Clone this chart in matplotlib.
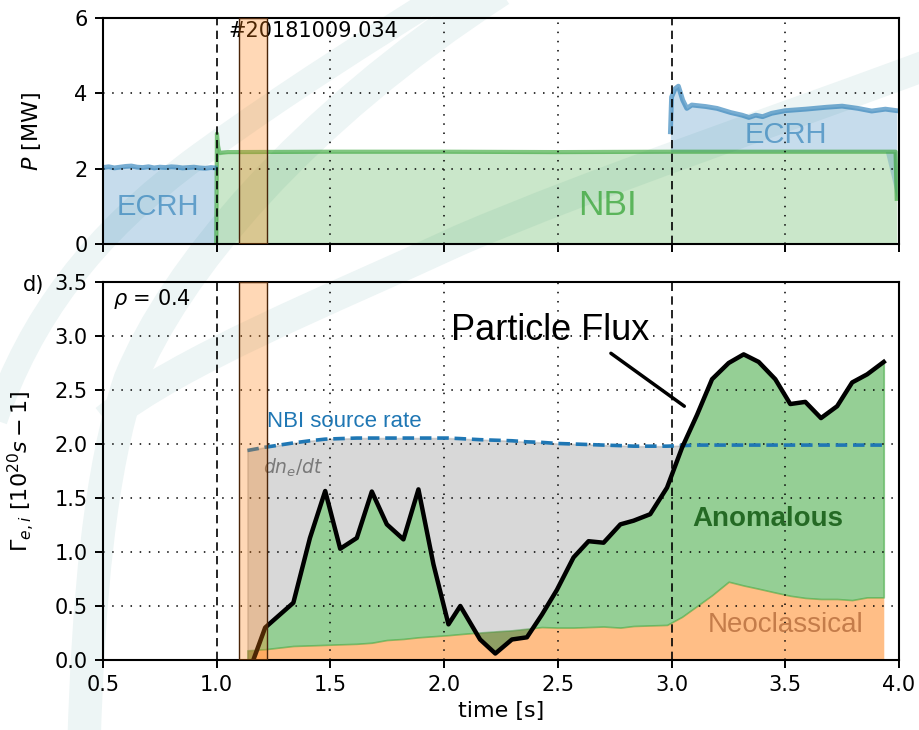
import numpy as np
import matplotlib
matplotlib.use("Agg")
import matplotlib.pyplot as plt
from matplotlib.colors import to_rgba
from matplotlib.path import Path
from matplotlib.patches import PathPatch

# ---------------- data ----------------
# top panel: heating powers [MW]
ecrh1_t = [0.50, 0.525, 0.55, 0.575, 0.60, 0.625, 0.65, 0.675, 0.70, 0.725, 0.75,
           0.775, 0.80, 0.825, 0.85, 0.875, 0.90, 0.925, 0.95, 0.975, 0.993]
ecrh1_p = [2.03, 2.05, 2.02, 2.04, 2.06, 2.07, 2.04, 2.03, 2.05, 2.02, 2.04,
           2.03, 2.05, 2.04, 2.02, 2.03, 2.04, 2.02, 2.01, 2.03, 2.02]
ecrh2_t = [2.995, 3.0, 3.015, 3.03, 3.049, 3.067, 3.089, 3.15, 3.2, 3.26, 3.31, 3.34,
           3.37, 3.40, 3.44, 3.50, 3.59, 3.68, 3.75, 3.82, 3.88, 3.94, 3.99]
ecrh2_p = [2.98, 3.90, 4.12, 4.19, 3.82, 3.60, 3.69, 3.65, 3.60, 3.49, 3.42, 3.36,
           3.42, 3.38, 3.47, 3.54, 3.58, 3.63, 3.66, 3.60, 3.53, 3.58, 3.54]
nbi_t = [0.998, 1.001, 1.006, 1.012, 1.05, 1.5, 2.0, 2.5, 3.0, 3.5, 3.985, 3.99]
nbi_p = [0.0, 2.93, 2.60, 2.42, 2.44, 2.45, 2.45, 2.44, 2.45, 2.45, 2.45, 1.20]

# bottom panel: particle fluxes at rho = 0.4 [1e20 /s]
flux_t = [1.135, 1.213, 1.337, 1.41, 1.477, 1.543, 1.616, 1.682, 1.748, 1.821, 1.887,
          1.953, 2.019, 2.071, 2.158, 2.225, 2.298, 2.364, 2.43, 2.496, 2.569, 2.635,
          2.701, 2.775, 2.833, 2.906, 2.98, 3.046, 3.112, 3.178, 3.251, 3.317, 3.383,
          3.456, 3.522, 3.588, 3.657, 3.728, 3.794, 3.86, 3.933]
particle_flux = [-0.15, 0.30, 0.53, 1.13, 1.565, 1.03, 1.13, 1.56, 1.256, 1.117, 1.58,
                 0.886, 0.33, 0.50, 0.19, 0.06, 0.19, 0.21, 0.42, 0.65, 0.95, 1.10,
                 1.086, 1.256, 1.29, 1.35, 1.596, 1.966, 2.27, 2.60, 2.75, 2.83, 2.76,
                 2.60, 2.37, 2.39, 2.24, 2.35, 2.57, 2.645, 2.76]
neoclassical = [0.09, 0.10, 0.13, 0.135, 0.14, 0.145, 0.15, 0.16, 0.185, 0.195, 0.21,
                0.22, 0.23, 0.24, 0.255, 0.265, 0.275, 0.29, 0.305, 0.30, 0.30, 0.305,
                0.31, 0.30, 0.315, 0.32, 0.325, 0.40, 0.50, 0.60, 0.725, 0.69, 0.66,
                0.625, 0.595, 0.575, 0.565, 0.565, 0.555, 0.58, 0.58]
nbi_source = [1.94, 1.97, 2.01, 2.03, 2.045, 2.05, 2.055, 2.055, 2.055, 2.055, 2.055,
              2.055, 2.055, 2.05, 2.04, 2.035, 2.03, 2.02, 2.015, 2.005, 2.0, 1.995,
              1.99, 1.985, 1.98, 1.98, 1.98, 1.985, 1.99, 1.99, 1.99, 1.99, 1.99,
              1.99, 1.99, 1.99, 1.99, 1.99, 1.99, 1.99, 1.99]

shot = "#20181009.034"
t_lines = [1.0, 3.0]
t_window = (1.1, 1.22)
x_ticks = [0.5, 1.0, 1.5, 2.0, 2.5, 3.0, 3.5, 4.0]

# ---------------- style ----------------
plt.rcParams["font.family"] = ["DejaVu Sans"]
ARIAL = ["Liberation Sans", "DejaVu Sans"]
fig = plt.figure(figsize=(9.2, 7.3), dpi=100)

# faint background watermark (decorative swooshes), figure pixel space
W, H = 920.0, 730.0
def fp(x, y):
    return (x / W, 1 - y / H)
wm_col = "#edf5f5"
def swoosh(pts, lw):
    verts = [fp(*p) for p in pts]
    codes = [Path.MOVETO] + [Path.CURVE4] * (len(verts) - 1)
    fig.add_artist(PathPatch(Path(verts, codes), fill=False, lw=lw, edgecolor=wm_col,
                             transform=fig.transFigure, zorder=-5, capstyle="butt"))
# big arc from bottom-left up to the top
swoosh([(84, 745), (88, 600), (100, 470), (130, 380),
        (175, 270), (300, 120), (500, -10)], 24)
# upper-left band
swoosh([(-5, 420), (30, 320), (90, 235), (200, 155),
        (290, 90), (370, 40), (450, -10)], 18)
# long band to the right
swoosh([(105, 420), (180, 360), (330, 300), (460, 240),
        (600, 180), (780, 120), (935, 62)], 22)

ax1 = fig.add_axes([103 / W, 1 - 244 / H, 796 / W, 226 / H])
ax2 = fig.add_axes([103 / W, 1 - 660 / H, 796 / W, 378 / H])

grid_kw = dict(color="k", lw=1.1, linestyle=(0, (1, 5)))
for ax in (ax1, ax2):
    ax.patch.set_alpha(0)
    ax.set_xlim(0.5, 4.0)
    ax.set_xticks(x_ticks)
    ax.set_axisbelow(False)
    ax.grid(True, **grid_kw)
    for tick_val, gl in zip(x_ticks, ax.get_xgridlines()):
        if tick_val in t_lines:
            gl.set_visible(False)
    ax.tick_params(direction="out", length=6, width=1.4, labelsize=15, pad=5)
    for s in ax.spines.values():
        s.set_linewidth(1.5)
    for tl in t_lines:
        ax.axvline(tl, color="k", lw=1.2, linestyle=(0, (5, 3.2)), zorder=3)
    ax.axvspan(*t_window, facecolor=to_rgba("tab:orange", 0.3),
               edgecolor="#4a2408", lw=1.0, zorder=6)

# ---- top panel ----
nbi_t_a = np.array(nbi_t)
nbi_p_a = np.array(nbi_p)
ax1.fill_between(nbi_t_a, 0, nbi_p_a, color="tab:green", alpha=0.25, lw=0)
ax1.plot(nbi_t_a, nbi_p_a, color="tab:green", lw=3, alpha=0.6)
for et, ep in ((ecrh1_t, ecrh1_p), (ecrh2_t, ecrh2_p)):
    et = np.array(et)
    ep = np.array(ep)
    base = np.interp(et, nbi_t_a, nbi_p_a, left=0, right=0)
    base = np.minimum(base, ep)
    ax1.fill_between(et, base, ep, color="tab:blue", alpha=0.25, lw=0)
    ax1.plot(et, ep, color="tab:blue", lw=3.5, alpha=0.6)
ax1.set_ylim(0, 6)
ax1.set_yticks([0, 2, 4, 6])
ax1.tick_params(labelbottom=False)
ax1.set_ylabel(r"$P$ [MW]", fontsize=16)
ax1.yaxis.set_label_coords(-0.0754, 0.5)
ax1.text(1.05, 5.65, shot, fontsize=15, va="center", ha="left")
ax1.text(0.742, 0.98, "ECRH", color="tab:blue", alpha=0.6, fontsize=21,
         family=ARIAL, ha="center", va="center")
ax1.text(3.503, 2.89, "ECRH", color="tab:blue", alpha=0.6, fontsize=21,
         family=ARIAL, ha="center", va="center")
ax1.text(2.72, 1.03, "NBI", color="tab:green", alpha=0.7, fontsize=25.5,
         family=ARIAL, ha="center", va="center")

# ---- bottom panel ----
ft = np.array(flux_t)
fl = np.array(particle_flux)
nc = np.array(neoclassical)
ns = np.array(nbi_source)
ax2.fill_between(ft, 0, nc, color="tab:orange", alpha=0.5, lw=0)
ax2.fill_between(ft, nc, fl, color="tab:green", alpha=0.5, lw=1.2)
ax2.fill_between(ft, fl, ns, where=fl <= ns, interpolate=True,
                 color="grey", alpha=0.3, lw=1.2)
ax2.plot(ft, ns, color="tab:blue", lw=2.6, linestyle=(0, (3.2, 1.6)), zorder=4)
ax2.plot(ft, fl, color="k", lw=3.2, zorder=5)
ax2.set_ylim(0, 3.5)
ax2.set_yticks(np.arange(0, 3.51, 0.5))
ax2.set_yticklabels([f"{v:.1f}" for v in np.arange(0, 3.51, 0.5)])
ax2.set_xticklabels([f"{v:.1f}" for v in x_ticks])
ax2.set_xlabel("time [s]", fontsize=16)
ax2.set_ylabel(r"$\Gamma_{e,i}$ [$10^{20}s-1$]", fontsize=16)
ax2.yaxis.set_label_coords(-0.083, 0.5)

ax2.text(0.013, 0.955, r"$\rho$ = 0.4", transform=ax2.transAxes, fontsize=15,
         va="center", ha="left")
ax2.text(1.22, 2.21, "NBI source rate", color="tab:blue", fontsize=16,
         family=ARIAL, va="center", ha="left")
ax2.text(1.205, 1.78, r"$dn_e/dt$", color="dimgray", alpha=0.85, fontsize=13.5,
         va="center", ha="left")
ax2.annotate("Particle Flux", xy=(3.056, 2.35), xytext=(2.466, 3.05),
             fontsize=26, family=ARIAL, ha="center", va="center",
             arrowprops=dict(arrowstyle="-", lw=2.5, color="k",
                             relpos=(0.77, 0.0), shrinkA=3, shrinkB=0),
             zorder=7)
ax2.text(3.424, 1.305, "Anomalous", color="#246a24", fontsize=20, weight="bold",
         family=ARIAL, ha="center", va="center")
ax2.text(3.50, 0.32, "Neoclassical", color="#c47c4a", fontsize=20,
         family=ARIAL, ha="center", va="center")

fig.text(23 / W, 1 - 285 / H, "d)", fontsize=15, va="center", ha="left")

fig.savefig("out.png", dpi=100)
